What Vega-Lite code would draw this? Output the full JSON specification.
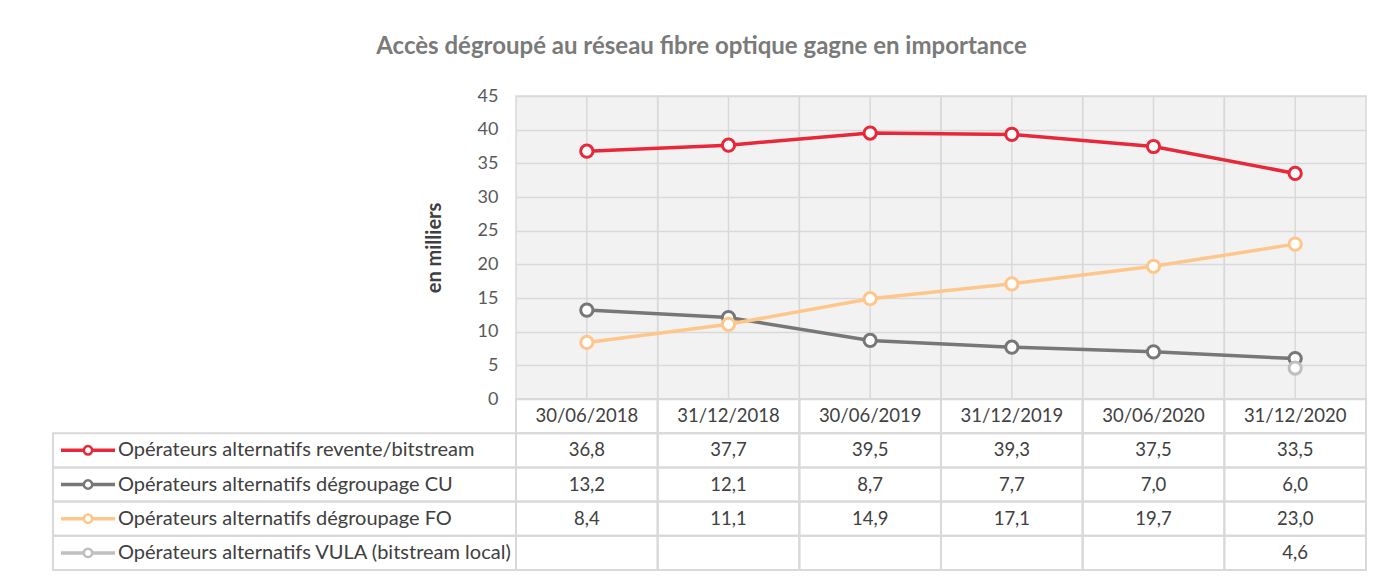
{
  "$schema": "https://vega.github.io/schema/vega-lite/v6.json",
  "padding": {"left": 52, "top": 35, "right": 10, "bottom": 5},
  "background": "white",
  "config": {
    "locale": {"number": {"decimal": ",", "thousands": " ", "grouping": [3], "currency": ["", " €"]}},
    "view": {"stroke": null},
    "font": "Lato",
    "text": {"font": "Lato"}
  },
  "title": {
    "text": "Accès dégroupé au réseau fibre optique gagne en importance",
    "font": "Lato", "fontSize": 24, "fontWeight": "bold", "color": "#7a7a7a",
    "anchor": "middle", "offset": 28, "dx": -8
  },
  "datasets": {
    "table": [
      {"series": "Opérateurs alternatifs revente/bitstream", "date": "30/06/2018", "value": 36.8},
      {"series": "Opérateurs alternatifs revente/bitstream", "date": "31/12/2018", "value": 37.7},
      {"series": "Opérateurs alternatifs revente/bitstream", "date": "30/06/2019", "value": 39.5},
      {"series": "Opérateurs alternatifs revente/bitstream", "date": "31/12/2019", "value": 39.3},
      {"series": "Opérateurs alternatifs revente/bitstream", "date": "30/06/2020", "value": 37.5},
      {"series": "Opérateurs alternatifs revente/bitstream", "date": "31/12/2020", "value": 33.5},
      {"series": "Opérateurs alternatifs dégroupage CU", "date": "30/06/2018", "value": 13.2},
      {"series": "Opérateurs alternatifs dégroupage CU", "date": "31/12/2018", "value": 12.1},
      {"series": "Opérateurs alternatifs dégroupage CU", "date": "30/06/2019", "value": 8.7},
      {"series": "Opérateurs alternatifs dégroupage CU", "date": "31/12/2019", "value": 7.7},
      {"series": "Opérateurs alternatifs dégroupage CU", "date": "30/06/2020", "value": 7.0},
      {"series": "Opérateurs alternatifs dégroupage CU", "date": "31/12/2020", "value": 6.0},
      {"series": "Opérateurs alternatifs dégroupage FO", "date": "30/06/2018", "value": 8.4},
      {"series": "Opérateurs alternatifs dégroupage FO", "date": "31/12/2018", "value": 11.1},
      {"series": "Opérateurs alternatifs dégroupage FO", "date": "30/06/2019", "value": 14.9},
      {"series": "Opérateurs alternatifs dégroupage FO", "date": "31/12/2019", "value": 17.1},
      {"series": "Opérateurs alternatifs dégroupage FO", "date": "30/06/2020", "value": 19.7},
      {"series": "Opérateurs alternatifs dégroupage FO", "date": "31/12/2020", "value": 23.0},
      {"series": "Opérateurs alternatifs VULA (bitstream local)", "date": "30/06/2018", "value": null},
      {"series": "Opérateurs alternatifs VULA (bitstream local)", "date": "31/12/2018", "value": null},
      {"series": "Opérateurs alternatifs VULA (bitstream local)", "date": "30/06/2019", "value": null},
      {"series": "Opérateurs alternatifs VULA (bitstream local)", "date": "31/12/2019", "value": null},
      {"series": "Opérateurs alternatifs VULA (bitstream local)", "date": "30/06/2020", "value": null},
      {"series": "Opérateurs alternatifs VULA (bitstream local)", "date": "31/12/2020", "value": 4.6}
    ],
    "series": [
      {"series": "Opérateurs alternatifs revente/bitstream"},
      {"series": "Opérateurs alternatifs dégroupage CU"},
      {"series": "Opérateurs alternatifs dégroupage FO"},
      {"series": "Opérateurs alternatifs VULA (bitstream local)"}
    ]
  },
  "columns": 2,
  "spacing": 0,
  "bounds": "flush",
  "concat": [
    {
      "width": 463, "height": 303,
      "data": {"values": []},
      "mark": {"type": "rect", "opacity": 0},
      "encoding": {}
    },
    {
      "width": 850, "height": 303,
      "data": {"name": "table"},
      "view": {"fill": "#f2f2f2", "stroke": null},
      "encoding": {
        "x": {"field": "date", "type": "ordinal",
              "scale": {"domain": ["30/06/2018", "31/12/2018", "30/06/2019", "31/12/2019", "30/06/2020", "31/12/2020"], "paddingInner": 0, "paddingOuter": 0},
              "axis": null}
      },
      "layer": [
        {
          "transform": [{"filter": "datum.series === 'Opérateurs alternatifs revente/bitstream'"}],
          "mark": {"type": "rect", "fill": null, "stroke": "#d9d9d9", "strokeWidth": 1.5},
          "encoding": {}
        },
        {
          "transform": [{"filter": "datum.series === 'Opérateurs alternatifs revente/bitstream'"}],
          "mark": {"type": "rule", "stroke": "#d9d9d9", "strokeWidth": 1.5},
          "encoding": {}
        },
        {
          "transform": [{"filter": "datum.value != null"}],
          "encoding": {
            "y": {"field": "value", "type": "quantitative",
                  "scale": {"domain": [0, 45], "nice": false},
                  "axis": {"values": [0, 5, 10, 15, 20, 25, 30, 35, 40, 45], "title": "en milliers",
                           "titleFont": "Lato", "titleFontSize": 20, "titleFontWeight": "bold", "titleColor": "#404040", "titlePadding": 33,
                           "labelFont": "Lato", "labelFontSize": 18, "labelColor": "#595959", "labelPadding": 18,
                           "labelOverlap": false, "labelBound": false, "labelFlush": false,
                           "domain": false, "ticks": false, "gridColor": "#d9d9d9", "gridWidth": 1.5}},
            "stroke": {"field": "series", "type": "nominal",
                       "scale": {"domain": ["Opérateurs alternatifs revente/bitstream", "Opérateurs alternatifs dégroupage CU", "Opérateurs alternatifs dégroupage FO", "Opérateurs alternatifs VULA (bitstream local)"],
                                 "range": ["#e8283a", "#777777", "#ffc68c", "#bfbfbf"]},
                       "legend": null}
          },
          "layer": [
            {"mark": {"type": "line", "strokeWidth": 3.5}},
            {"mark": {"type": "point", "filled": true, "fill": "white", "strokeWidth": 3, "size": 150, "opacity": 1}}
          ]
        }
      ]
    },
    {
      "width": 463, "height": 171,
      "data": {"name": "series"},
      "encoding": {
        "y": {"field": "series", "type": "nominal",
              "scale": {"domain": ["en-tête", "Opérateurs alternatifs revente/bitstream", "Opérateurs alternatifs dégroupage CU", "Opérateurs alternatifs dégroupage FO", "Opérateurs alternatifs VULA (bitstream local)"], "paddingInner": 0, "paddingOuter": 0},
              "axis": null}
      },
      "layer": [
        {
          "mark": {"type": "rect", "fill": null, "stroke": "#d9d9d9", "strokeWidth": 2},
          "encoding": {}
        },
        {
          "mark": {"type": "rule", "strokeWidth": 3.5},
          "encoding": {
            "x": {"datum": "début", "type": "ordinal", "scale": {"type": "point", "domain": ["début", "milieu", "fin"], "range": [8, 62], "padding": 0}, "axis": null},
            "x2": {"datum": "fin"},
            "stroke": {"field": "series", "type": "nominal",
                       "scale": {"domain": ["Opérateurs alternatifs revente/bitstream", "Opérateurs alternatifs dégroupage CU", "Opérateurs alternatifs dégroupage FO", "Opérateurs alternatifs VULA (bitstream local)"],
                                 "range": ["#e8283a", "#777777", "#ffc68c", "#bfbfbf"]},
                       "legend": null}
          }
        },
        {
          "mark": {"type": "point", "filled": true, "fill": "white", "strokeWidth": 2.5, "size": 70, "opacity": 1},
          "encoding": {
            "x": {"datum": "milieu", "type": "ordinal"},
            "stroke": {"field": "series", "type": "nominal", "legend": null}
          }
        },
        {
          "mark": {"type": "text", "align": "left", "baseline": "middle", "dx": 3, "fontSize": 20, "fill": "#404040", "font": "Lato"},
          "encoding": {
            "x": {"datum": "fin", "type": "ordinal"},
            "text": {"field": "series"}
          }
        }
      ]
    },
    {
      "width": 850, "height": 171,
      "data": {"name": "table"},
      "encoding": {
        "x": {"field": "date", "type": "ordinal",
              "scale": {"domain": ["30/06/2018", "31/12/2018", "30/06/2019", "31/12/2019", "30/06/2020", "31/12/2020"], "paddingInner": 0, "paddingOuter": 0},
              "axis": null}
      },
      "layer": [
        {
          "mark": {"type": "rect", "fill": null, "stroke": "#d9d9d9", "strokeWidth": 2},
          "encoding": {
            "y": {"field": "series", "type": "nominal",
                  "scale": {"domain": ["en-tête", "Opérateurs alternatifs revente/bitstream", "Opérateurs alternatifs dégroupage CU", "Opérateurs alternatifs dégroupage FO", "Opérateurs alternatifs VULA (bitstream local)"], "paddingInner": 0, "paddingOuter": 0},
                  "axis": null}
          }
        },
        {
          "transform": [{"filter": "datum.series === 'Opérateurs alternatifs revente/bitstream'"}],
          "mark": {"type": "rect", "fill": null, "stroke": "#d9d9d9", "strokeWidth": 2},
          "encoding": {"y": {"datum": "en-tête", "type": "nominal"}}
        },
        {
          "transform": [{"filter": "datum.value != null"}],
          "mark": {"type": "text", "baseline": "middle", "fontSize": 18.5, "fill": "#404040", "font": "Lato"},
          "encoding": {
            "y": {"field": "series", "type": "nominal"},
            "text": {"field": "value", "type": "quantitative", "format": ".1f"}
          }
        },
        {
          "transform": [{"filter": "datum.series === 'Opérateurs alternatifs revente/bitstream'"}],
          "mark": {"type": "text", "baseline": "middle", "fontSize": 18.5, "fill": "#404040", "font": "Lato"},
          "encoding": {
            "y": {"datum": "en-tête", "type": "nominal"},
            "text": {"field": "date"}
          }
        }
      ]
    }
  ]
}
